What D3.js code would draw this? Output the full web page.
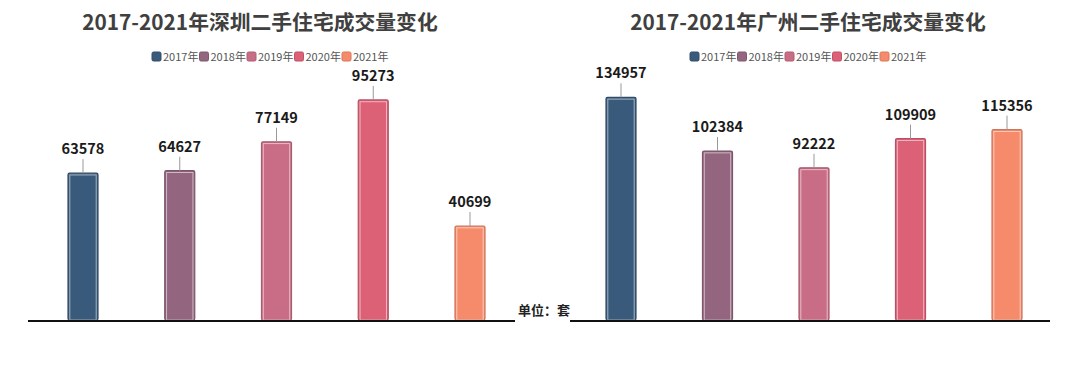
<!DOCTYPE html>
<html>
<head>
<meta charset="utf-8">
<script src="https://cdn.jsdelivr.net/npm/d3@7"></script>
<style>
  body { margin: 0; background: #fff; }
  text { font-family: "Noto Sans CJK SC", "Noto Sans", sans-serif; }
</style>
</head>
<body>
<div id="chart"></div>
<script>
// data
const years = ['2017年', '2018年', '2019年', '2020年', '2021年'];
const shenzhenValues = [63578, 64627, 77149, 95273, 40699];
const guangzhouValues = [134957, 102384, 92222, 109909, 115356];
const colors = ['#3a5a7b', '#93657f', '#c96c85', '#dc6076', '#f68b6b'];
const titles = ['2017-2021年深圳二手住宅成交量变化', '2017-2021年广州二手住宅成交量变化'];
const unitLabel = '单位：套';

const width = 1080;
const height = 366;

const svg = d3.select('#chart').append('svg')
  .attr('width', width)
  .attr('height', height);

const panels = [
  { title: titles[0], values: shenzhenValues, max: 100000, xRange: [83, 470], line: [28, 515], titleX: 260, legendX: 152 },
  { title: titles[1], values: guangzhouValues, max: 140000, xRange: [621, 1007], line: [570, 1050], titleX: 808, legendX: 690 }
];

const baseY = 320;

panels.forEach(p => {
  const g = svg.append('g');

  const x = d3.scalePoint()
    .domain(years)
    .range(p.xRange);

  const y = d3.scaleLinear()
    .domain([0, p.max])
    .range([baseY, 89]);

  const barW = 30;

  // title
  g.append('text')
    .attr('x', p.titleX)
    .attr('y', 30)
    .attr('text-anchor', 'middle')
    .attr('font-size', 20.8)
    .attr('font-weight', 'bold')
    .attr('fill', '#404040')
    .text(p.title);

  // legend
  const legend = g.append('g')
    .attr('transform', 'translate(' + p.legendX + ',52)');

  const item = legend.selectAll('g')
    .data(years)
    .join('g')
    .attr('transform', (d, i) => 'translate(' + (i * 47.5) + ',0)');

  item.append('rect')
    .attr('width', 9)
    .attr('height', 9)
    .attr('rx', 1.5)
    .attr('fill', (d, i) => colors[i])
    .attr('stroke', (d, i) => d3.color(colors[i]).darker(0.4))
    .attr('stroke-width', 1);

  item.append('text')
    .attr('x', 11)
    .attr('y', 8.5)
    .attr('font-size', 11)
    .attr('fill', '#555')
    .text(d => d);

  // bars
  const bars = g.selectAll('.bar')
    .data(p.values)
    .join('g')
    .attr('class', 'bar');

  bars.append('rect')
    .attr('x', (d, i) => x(years[i]) - barW / 2)
    .attr('y', d => y(d))
    .attr('width', barW)
    .attr('height', d => baseY - y(d))
    .attr('rx', 1.5)
    .attr('fill', (d, i) => colors[i])
    .attr('stroke', (d, i) => d3.color(colors[i]).darker(0.5))
    .attr('stroke-width', 1.2);

  // inner light edge
  bars.append('rect')
    .attr('x', (d, i) => x(years[i]) - barW / 2 + 1.8)
    .attr('y', d => y(d) + 1.8)
    .attr('width', barW - 3.6)
    .attr('height', d => baseY - y(d) - 1.8)
    .attr('fill', 'none')
    .attr('stroke', '#fff')
    .attr('stroke-opacity', 0.55)
    .attr('stroke-width', 1);

  // leader lines
  bars.append('line')
    .attr('x1', (d, i) => x(years[i]))
    .attr('x2', (d, i) => x(years[i]))
    .attr('y1', d => y(d) - 14)
    .attr('y2', d => y(d))
    .attr('stroke', '#999')
    .attr('stroke-width', 1);

  // value labels
  bars.append('text')
    .attr('x', (d, i) => x(years[i]))
    .attr('y', d => y(d) - 19)
    .attr('text-anchor', 'middle')
    .attr('font-size', 14.5)
    .attr('font-weight', 'bold')
    .attr('fill', '#1a1a1a')
    .text(d => d);

  // baseline
  g.append('line')
    .attr('x1', p.line[0])
    .attr('x2', p.line[1])
    .attr('y1', baseY + 1)
    .attr('y2', baseY + 1)
    .attr('stroke', '#111')
    .attr('stroke-width', 2.2);
});

svg.append('text')
  .attr('x', 518)
  .attr('y', 315)
  .attr('font-size', 13)
  .attr('font-weight', 'bold')
  .attr('fill', '#222')
  .text(unitLabel);
</script>
</body>
</html>
